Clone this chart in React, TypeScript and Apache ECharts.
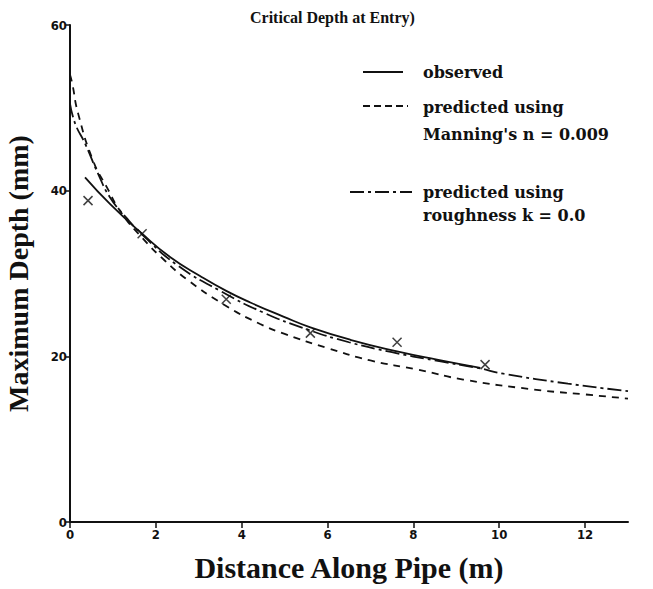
import React, { useEffect, useRef } from "react";
import * as echarts from "echarts";

const observedX = [0.35, 0.93, 1.68, 2.33, 3.03, 3.64, 4.2, 4.97, 5.6, 6.53, 7.62, 8.55, 9.56];
const observedY = [41.6, 38.4, 34.8, 32.0, 29.7, 27.9, 26.5, 24.8, 23.5, 22.0, 20.6, 19.6, 18.6];

const manningX = [0, 0.05, 0.19, 0.54, 0.86, 1.2, 1.7, 2.2, 2.72, 3.6, 4.43, 5.0, 6.0, 7.0, 8.1, 9.16, 10.8, 12.0, 13.0];
const manningY = [54.0, 53.0, 49.3, 43.6, 40.4, 37.3, 34.2, 31.6, 29.3, 26.2, 23.9, 22.7, 21.0, 19.5, 18.4, 17.2, 16.0, 15.4, 14.9];

const roughX = [0, 0.12, 0.35, 0.65, 0.93, 1.3, 1.7, 2.5, 3.5, 4.5, 5.5, 6.5, 7.5, 8.5, 9.5, 10.1, 11.6, 13.0];
const roughY = [50.5, 48.1, 45.7, 42.1, 39.2, 36.8, 34.6, 31.0, 27.9, 25.3, 23.3, 21.7, 20.5, 19.5, 18.6, 17.9, 16.7, 15.8];

const pointX = [0.42, 1.68, 3.64, 5.6, 7.62, 9.67];
const pointY = [38.8, 34.8, 26.9, 22.8, 21.7, 19.0];

const xTicks = [0, 2, 4, 6, 8, 10, 12];
const yTicks = [0, 20, 40, 60];

const titleText = "Critical Depth at Entry)";
const legendObserved = "observed";
const legendManning = ["predicted using", "Manning's n = 0.009"];
const legendRough = ["predicted using", "roughness k = 0.0"];
const xName = "Distance Along Pipe (m)";
const yName = "Maximum Depth (mm)";

const pairs = (xs: number[], ys: number[]) => xs.map((x, i) => [x, ys[i]]);

const SERIF = "'DejaVu Serif', serif";
const TITLE_SERIF = "'Liberation Serif', 'Times New Roman', serif";
const NARROW = "'Liberation Sans Narrow', 'DejaVu Sans Condensed', 'Arial Narrow', sans-serif";

export default function App() {
  const ref = useRef<HTMLDivElement>(null);
  useEffect(() => {
    if (!ref.current) return;
    const chart = echarts.init(ref.current, null, { renderer: "svg" });
    const legendText = (x: number, y: number, t: string) => ({
      type: "text",
      x,
      y,
      style: {
        text: t,
        font: `bold 16px ${SERIF}`,
        fill: "#111",
        verticalAlign: "middle",
        align: "left",
      },
    });
    const legendLine = (x1: number, x2: number, y: number, dash: number[] | null) => ({
      type: "line",
      shape: { x1, y1: y, x2, y2: y },
      style: { stroke: "#111", lineWidth: 2, lineDash: dash || undefined },
    });
    chart.setOption({
      animation: false,
      backgroundColor: "#fff",
      grid: { left: 70, right: 25, top: 25, bottom: 67, containLabel: false, outerBoundsMode: "none" },
      xAxis: {
        type: "value",
        min: 0,
        max: 13,
        interval: 2,
        name: xName,
        nameLocation: "middle",
        nameGap: 30,
        nameTextStyle: { fontFamily: TITLE_SERIF, fontWeight: "bold", fontSize: 30, color: "#111", verticalAlign: "top" },
        axisLine: { show: true, onZero: false, lineStyle: { color: "#111", width: 2 } },
        axisTick: { show: true, length: 6, inside: false, customValues: xTicks, lineStyle: { color: "#111", width: 1.5 } },
        axisLabel: {
          customValues: xTicks,
          margin: 6,
          fontFamily: NARROW,
          fontWeight: "bold",
          fontSize: 13,
          color: "#111",
        },
        splitLine: { show: false },
      },
      yAxis: {
        type: "value",
        min: 0,
        max: 60,
        interval: 20,
        name: yName,
        nameLocation: "middle",
        nameGap: 38,
        nameRotate: 90,
        nameTextStyle: { fontFamily: TITLE_SERIF, fontWeight: "bold", fontSize: 28, color: "#111" },
        axisLine: { show: true, onZero: false, lineStyle: { color: "#111", width: 2 } },
        axisTick: { show: true, length: 5, inside: false, customValues: yTicks, lineStyle: { color: "#111", width: 1.5 } },
        axisLabel: {
          customValues: yTicks,
          margin: 3,
          fontFamily: NARROW,
          fontWeight: "bold",
          fontSize: 13,
          color: "#111",
        },
        splitLine: { show: false },
      },
      graphic: [
        {
          type: "text",
          x: 250,
          y: 17,
          style: { text: titleText, font: `bold 16px ${TITLE_SERIF}`, fill: "#111", verticalAlign: "middle" },
        },
        legendLine(363, 403, 72, null),
        legendText(423, 72, legendObserved),
        legendLine(363, 408, 106, [7, 4]),
        legendText(423, 107, legendManning[0]),
        legendText(423, 134, legendManning[1]),
        legendLine(350, 412, 192, [14, 4, 3, 4]),
        legendText(423, 192, legendRough[0]),
        legendText(423, 215, legendRough[1]),
      ],
      series: [
        {
          name: "observed",
          type: "line",
          smooth: true,
          showSymbol: false,
          data: pairs(observedX, observedY),
          lineStyle: { color: "#111", width: 1.8, type: "solid" },
        },
        {
          name: "manning",
          type: "line",
          smooth: true,
          showSymbol: false,
          data: pairs(manningX, manningY),
          lineStyle: { color: "#111", width: 1.8, type: [7, 6] },
        },
        {
          name: "roughness",
          type: "line",
          smooth: true,
          showSymbol: false,
          data: pairs(roughX, roughY),
          lineStyle: { color: "#111", width: 1.8, type: [14, 4, 3, 4] },
        },
        {
          name: "points",
          type: "scatter",
          symbol: "path://M0,0L10,10M10,0L0,10",
          symbolSize: 9,
          data: pairs(pointX, pointY),
          itemStyle: { color: "none", borderColor: "#111", borderWidth: 1.5 },
        },
      ],
    });
    return () => chart.dispose();
  }, []);
  return <div ref={ref} style={{ width: 653, height: 589, position: "absolute", left: 0, top: 0 }} />;
}
